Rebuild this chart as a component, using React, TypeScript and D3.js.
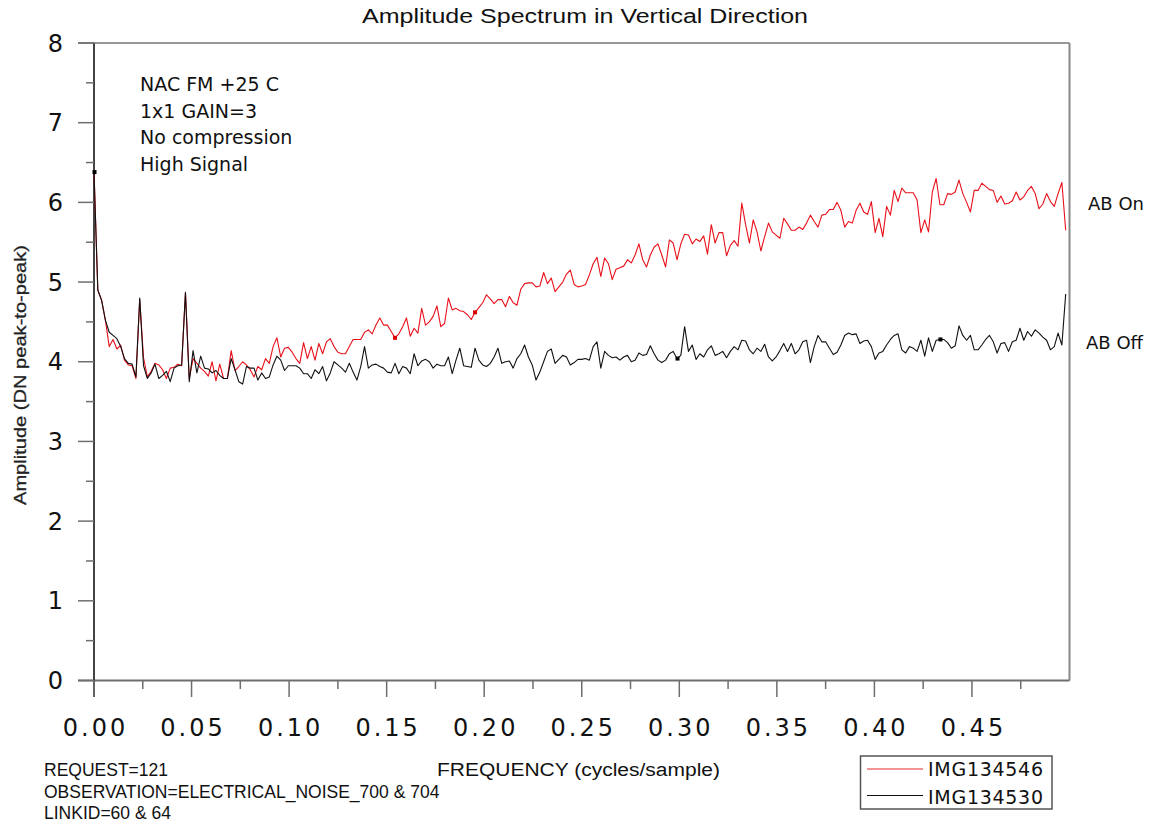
import React from "react";
import * as d3 from "d3";

// ---- data ----
const FREQ_STEP = 1 / 512;

const RED_IMG134546: number[] = [
  6.40,4.90,4.77,4.52,4.19,4.28,4.16,4.21,4.02,3.96,
  3.95,3.79,4.78,4.05,3.81,3.88,3.98,3.96,3.90,3.79,
  3.92,3.93,3.97,3.95,4.87,3.79,4.04,3.98,3.92,3.88,
  3.82,4.00,3.76,3.97,3.79,3.79,4.14,3.89,3.94,4.00,
  3.96,3.90,3.81,3.94,3.90,4.04,3.98,4.19,4.30,4.06,
  4.17,4.18,4.12,4.04,3.98,4.24,4.04,4.19,4.02,4.23,
  4.10,4.25,4.29,4.19,4.12,
  4.10,4.10,4.19,4.28,4.28,4.28,4.37,4.40,4.35,4.46,
  4.55,4.46,4.46,4.38,4.30,4.35,4.44,4.55,4.32,4.42,
  4.36,4.67,4.46,4.50,4.57,4.70,4.44,4.48,4.80,4.65,
  4.67,4.64,4.63,4.59,4.53,4.62,4.68,4.74,4.84,4.79,
  4.73,4.78,4.78,4.69,4.82,4.74,4.71,4.91,4.98,4.99,
  4.99,4.94,4.95,5.12,4.98,5.05,4.88,4.94,5.00,5.10,
  5.15,4.97,4.94,4.95,
  4.97,5.09,5.23,5.31,5.07,5.30,5.23,5.03,5.16,5.18,
  5.20,5.28,5.24,5.34,5.48,5.28,5.19,5.34,5.44,5.48,
  5.34,5.19,5.53,5.49,5.28,5.48,5.60,5.59,5.48,5.54,
  5.51,5.58,5.35,5.72,5.49,5.62,5.62,5.33,5.46,5.52,
  5.45,5.99,5.72,5.49,5.78,5.63,5.39,5.57,5.74,5.63,
  5.59,5.55,5.80,5.73,5.65,5.65,5.69,5.66,5.74,5.84,
  5.76,5.69,5.84,5.85,
  5.91,5.91,6.00,5.90,5.69,5.76,5.74,5.90,5.99,5.88,
  5.85,6.01,5.62,5.80,5.57,5.95,5.84,6.15,6.01,6.18,
  6.12,6.12,6.12,6.03,5.62,5.78,5.63,6.13,6.30,5.97,
  5.97,6.11,6.10,6.13,6.28,6.11,6.00,5.88,6.15,6.15,
  6.24,6.20,6.16,6.15,6.00,6.08,5.98,5.99,6.02,6.13,
  6.03,6.07,6.15,6.20,6.11,5.92,5.98,6.11,6.01,5.95,
  6.11,6.25,5.65,
];

const BLACK_IMG134530: number[] = [
  6.38,4.90,4.77,4.52,4.37,4.33,4.29,4.19,4.04,3.98,
  3.97,3.81,4.80,3.95,3.79,3.86,3.97,3.79,3.83,3.88,
  3.75,3.92,3.95,3.96,4.87,3.75,4.14,3.86,4.07,3.92,
  3.91,3.86,3.89,3.83,3.79,3.79,4.04,3.90,3.75,3.72,
  3.94,3.92,3.92,3.77,3.86,3.79,3.81,3.96,4.07,4.02,
  3.89,3.95,3.95,3.95,3.92,3.85,3.85,3.79,3.90,3.85,
  3.94,3.76,3.86,4.00,3.96,
  3.92,3.87,3.98,3.87,3.77,3.94,4.19,3.92,3.96,3.97,
  3.94,3.92,3.87,3.86,3.98,3.85,3.94,3.92,3.85,4.10,
  3.95,4.01,4.03,4.00,3.92,3.97,3.95,3.95,4.06,3.85,
  4.02,4.17,3.95,3.94,3.93,4.17,4.02,3.96,3.94,3.98,
  4.06,4.17,3.98,4.00,4.01,3.92,4.04,4.10,4.21,4.06,
  3.96,3.77,3.87,4.00,4.13,4.16,3.98,4.03,4.08,4.06,
  3.96,3.99,4.03,4.03,
  4.04,4.02,4.19,4.25,3.92,4.13,4.08,4.05,4.06,4.02,
  4.06,4.08,4.00,4.02,4.11,4.08,4.09,4.20,4.10,4.02,
  3.99,4.02,4.10,4.13,4.04,4.08,4.44,4.13,4.21,4.03,
  4.10,4.06,4.15,4.20,4.08,4.10,4.13,4.05,4.13,4.19,
  4.15,4.27,4.26,4.15,4.10,4.17,4.13,4.22,4.06,4.01,
  4.06,4.14,4.23,4.13,4.23,4.10,4.15,4.25,4.27,3.99,
  4.19,4.33,4.25,4.25,
  4.17,4.09,4.12,4.21,4.33,4.36,4.34,4.35,4.23,4.26,
  4.27,4.19,4.03,4.11,4.13,4.21,4.28,4.33,4.35,4.15,
  4.11,4.19,4.17,4.13,4.27,4.07,4.30,4.13,4.27,4.28,
  4.28,4.24,4.17,4.20,4.45,4.33,4.27,4.33,4.15,4.15,
  4.21,4.28,4.33,4.25,4.11,4.23,4.24,4.13,4.25,4.27,
  4.42,4.27,4.38,4.32,4.40,4.36,4.31,4.27,4.15,4.19,
  4.36,4.21,4.85,
];

const RED_MARKERS = [79, 100];
const BLACK_MARKERS = [0, 153, 222];

const Y_MAJOR = [0, 1, 2, 3, 4, 5, 6, 7, 8];
const Y_MINOR = [0.5, 1.5, 2.5, 3.5, 4.5, 5.5, 6.5, 7.5];
const X_MAJOR = [0, 0.05, 0.1, 0.15, 0.2, 0.25, 0.3, 0.35, 0.4, 0.45];
const X_MINOR = [0.025, 0.075, 0.125, 0.175, 0.225, 0.275, 0.325, 0.375, 0.425, 0.475];

const TITLE = "Amplitude Spectrum in Vertical Direction";
const Y_LABEL = "Amplitude (DN peak-to-peak)";
const X_LABEL = "FREQUENCY (cycles/sample)";
const NOTES = ["NAC FM +25 C", "1x1 GAIN=3", "No compression", "High Signal"];
const FOOTER = ["REQUEST=121", "OBSERVATION=ELECTRICAL_NOISE_700 & 704", "LINKID=60 & 64"];
const LEGEND = ["IMG134546", "IMG134530"];
const END_LABELS = ["AB On", "AB Off"];

export default function App() {
  const W = 1160, H = 824;
  const left = 94, right = 1069.5, top = 43, bottom = 680.5;
  const x = d3.scaleLinear().domain([0, 0.5]).range([left, right]);
  const y = d3.scaleLinear().domain([0, 8]).range([bottom, top]);
  const line = d3
    .line<number>()
    .x((_, i) => x(i * FREQ_STEP))
    .y((d) => y(d));

  const verd = "'DejaVu Sans', Verdana, sans-serif";
  const arial = "'Liberation Sans', Arial, sans-serif";
  const axisGrey = "#6e6e6e";

  return (
    <svg
      width={W}
      height={H}
      viewBox={`0 0 ${W} ${H}`}
      style={{ position: "absolute", left: 0, top: 0, background: "#fff" }}
    >
      <rect x={0} y={0} width={W} height={H} fill="#fff" />
      {/* title */}
      <text x={585} y={23} fontFamily={arial} fontSize={20} textAnchor="middle" textLength={446} lengthAdjust="spacingAndGlyphs" fill="#111">
        {TITLE}
      </text>

      {/* frame */}
      <line x1={78} x2={right} y1={top} y2={top} stroke="#333" strokeWidth={1.2} />
      <line x1={right} x2={right} y1={top} y2={bottom} stroke="#888" strokeWidth={2} />
      <line x1={left - 16} x2={right} y1={bottom} y2={bottom} stroke={axisGrey} strokeWidth={2} />
      <line x1={left} x2={left} y1={top} y2={697} stroke="#444" strokeWidth={2} />

      {/* y ticks */}
      {Y_MAJOR.map((v) => (
        <g key={"ym" + v}>
          <line x1={78} x2={left} y1={y(v)} y2={y(v)} stroke={axisGrey} strokeWidth={1.5} />
          <text x={63} y={y(v) + 8.5} fontFamily={verd} fontSize={24} textAnchor="end" fill="#111">
            {v}
          </text>
        </g>
      ))}
      {Y_MINOR.map((v) => (
        <line key={"yn" + v} x1={86} x2={left} y1={y(v)} y2={y(v)} stroke={axisGrey} strokeWidth={1.5} />
      ))}

      {/* x ticks */}
      {X_MAJOR.map((v) => (
        <g key={"xm" + v}>
          <line x1={x(v)} x2={x(v)} y1={bottom} y2={697} stroke={axisGrey} strokeWidth={1.5} />
          <text x={x(v) + 1.5} y={736} fontFamily={verd} fontSize={24} letterSpacing={3} textAnchor="middle" fill="#111">
            {v.toFixed(2)}
          </text>
        </g>
      ))}
      {X_MINOR.map((v) => (
        <line key={"xn" + v} x1={x(v)} x2={x(v)} y1={bottom} y2={689} stroke={axisGrey} strokeWidth={1.5} />
      ))}

      {/* y label */}
      <text
        transform={`translate(26, 375) rotate(-90)`}
        fontFamily={arial}
        fontSize={17}
        textAnchor="middle"
        textLength={260}
        lengthAdjust="spacingAndGlyphs"
        fill="#222"
        stroke="#222"
        strokeWidth={0.3}
      >
        {Y_LABEL}
      </text>

      {/* notes */}
      {NOTES.map((t, i) => (
        <text key={t} x={140} y={91 + i * 26.5} fontFamily={verd} fontSize={19} fill="#111">
          {t}
        </text>
      ))}

      {/* series */}
      <path d={line(RED_IMG134546) || ""} fill="none" stroke="#e8101a" strokeWidth={1.1} strokeLinejoin="round" />
      <path d={line(BLACK_IMG134530) || ""} fill="none" stroke="#111" strokeWidth={1.1} strokeLinejoin="round" />
      {RED_MARKERS.map((i) => (
        <rect key={"rm" + i} x={x(i * FREQ_STEP) - 2} y={y(RED_IMG134546[i]) - 2} width={4} height={4} fill="#d00" />
      ))}
      {BLACK_MARKERS.map((i) => (
        <rect key={"bm" + i} x={x(i * FREQ_STEP) - 1.5} y={y(BLACK_IMG134530[i]) - 2} width={4} height={4} fill="#000" />
      ))}

      {/* end labels */}
      <text x={1088} y={210} fontFamily={verd} fontSize={18} fill="#111">{END_LABELS[0]}</text>
      <text x={1086} y={349} fontFamily={verd} fontSize={18} fill="#111">{END_LABELS[1]}</text>

      {/* footer */}
      {FOOTER.map((t, i) => (
        <text key={t} x={44} y={776 + i * 21.5} fontFamily={arial} fontSize={17.5} fill="#111">
          {t}
        </text>
      ))}
      <text x={437} y={776} fontFamily={arial} fontSize={18} textLength={283} lengthAdjust="spacingAndGlyphs" fill="#111">
        {X_LABEL}
      </text>

      {/* legend */}
      <rect x={860.5} y={756} width={191.5} height={53} fill="#fff" stroke="#555" strokeWidth={1.5} />
      <line x1={867} x2={923} y1={769} y2={769} stroke="#f07070" strokeWidth={1.6} />
      <line x1={867} x2={923} y1={795.5} y2={795.5} stroke="#111" strokeWidth={1} />
      <text x={928} y={776} fontFamily={verd} fontSize={19} textLength={115} lengthAdjust="spacing" fill="#111">{LEGEND[0]}</text>
      <text x={928} y={804} fontFamily={verd} fontSize={19} textLength={115} lengthAdjust="spacing" fill="#111">{LEGEND[1]}</text>
    </svg>
  );
}
